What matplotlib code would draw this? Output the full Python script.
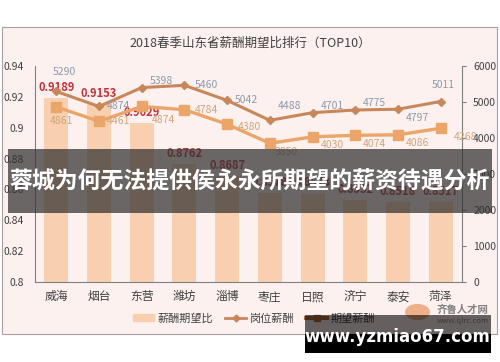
import matplotlib.pyplot as plt
from matplotlib.patches import Rectangle, Ellipse
from matplotlib.lines import Line2D

plt.rcParams['font.family'] = ['Noto Sans CJK SC', 'DejaVu Sans']

cities = ["威海", "烟台", "东营", "潍坊", "淄博", "枣庄", "日照", "济宁", "泰安", "菏泽"]
ratio = [0.9189, 0.9153, 0.9029, 0.8762, 0.8687, 0.8578, 0.8573, 0.8532, 0.8518, 0.8517]
job_pay = [5290, 4874, 5398, 5460, 5042, 4488, 4701, 4775, 4797, 5011]
expected_pay = [4861, 4461, 4874, 4784, 4380, 3850, 4030, 4074, 4086, 4268]
left_ticks = [0.8, 0.82, 0.84, 0.86, 0.88, 0.9, 0.92, 0.94]
right_ticks = [0, 1000, 2000, 3000, 4000, 5000, 6000]

# label offsets in points (styling only)
job_off = [(6, 14), (14, 0), (14, 5), (16, 0), (14, 0), (14, 10), (14, 5), (14, 5), (14, -6), (2, 12)]
exp_off = [(4, -10), (14, 0), (16, -10), (16, 0), (16, -2), (12, -6), (14, -6), (14, -6), (14, -6), (18, -6)]

C_BAR = "#f8d0b0"
C_JOB = "#c8875a"
C_EXP = "#eba568"
C_TXT = "#404040"

fig = plt.figure(figsize=(5, 3.62), dpi=100)

# chart panel
fig.patches.append(Rectangle((0.003, 0.077), 0.991, 0.848, transform=fig.transFigure,
                             facecolor="#fdf1ef", edgecolor="#a8a0a0", lw=0.8, zorder=-5))

ax = fig.add_axes([0.07, 0.221, 0.854, 0.597])
ax.set_facecolor("none")
x = list(range(len(cities)))
ax.bar(x, ratio, width=0.56, color=C_BAR, zorder=1)
ax.set_ylim(0.8, 0.94)
ax.set_xlim(-0.5, len(cities) - 0.5)
ax.set_yticks(left_ticks)
ax.set_yticklabels([f"{t:g}" for t in left_ticks], fontsize=7.5, color=C_TXT)
ax.set_xticks(x)
ax.set_xticklabels(cities, fontsize=8.5, color=C_TXT)
ax.tick_params(axis="y", length=0, pad=8)
ax.tick_params(axis="x", length=0, pad=6)
for s in ["top", "right"]:
    ax.spines[s].set_visible(False)
ax.spines["left"].set_color("#808080")
ax.spines["bottom"].set_color("#808080")
ax.spines["left"].set_linewidth(0.8)
for xi, v in zip(x, ratio):
    ax.annotate(f"{v:.4f}", (xi, v), xytext=(0, 3), textcoords="offset points",
                ha="center", va="bottom", fontsize=8, color="#c4303a", fontweight="bold")

ax2 = ax.twinx()
ax2.set_ylim(0, 6000)
ax2.set_yticks(right_ticks)
ax2.set_yticklabels([str(t) for t in right_ticks], fontsize=7.5, color=C_TXT)
ax2.tick_params(axis="y", length=3, color="#808080", pad=5)
for s in ["top", "left", "bottom"]:
    ax2.spines[s].set_visible(False)
ax2.spines["right"].set_color("#808080")
ax2.spines["right"].set_linewidth(0.8)

ax2.plot(x, job_pay, color=C_JOB, lw=2.2, marker="D", ms=4.5, zorder=3)
ax2.plot(x, expected_pay, color=C_EXP, lw=2.4, marker="s", ms=7, zorder=3)
for xi, v, o in zip(x, job_pay, job_off):
    ax2.annotate(str(v), (xi, v), xytext=o, textcoords="offset points",
                 ha="center", va="center", fontsize=7.5, color="#8e9aaa")
for xi, v, o in zip(x, expected_pay, exp_off):
    ax2.annotate(str(v), (xi, v), xytext=o, textcoords="offset points",
                 ha="center", va="center", fontsize=7.5, color="#d0a47c")

fig.text(0.5, 0.881, "2018春季山东省薪酬期望比排行（TOP10）", ha="center", va="center",
         fontsize=9, color=C_TXT)

handles = [Rectangle((0, 0), 1, 1, color=C_BAR),
           Line2D([], [], color=C_JOB, lw=2, marker="D", ms=3.5),
           Line2D([], [], color="#b07040", lw=3, marker="s", ms=4)]
fig.legend(handles, ["薪酬期望比", "岗位薪酬", "期望薪酬"], loc="center",
           bbox_to_anchor=(0.508, 0.121), ncol=3, frameon=False, fontsize=8,
           handlelength=1.9, handletextpad=0.3, columnspacing=1.1, labelcolor=C_TXT)

# logo
fig.patches.append(Ellipse((0.835, 0.138), 0.05, 0.045, transform=fig.transFigure,
                           facecolor="#eaa070", edgecolor="none", alpha=0.8, zorder=5))
fig.text(0.925, 0.143, "齐鲁人才网", ha="center", va="center", fontsize=7.5,
         color="#808080", fontweight="bold")
fig.text(0.925, 0.113, "www.qlrc.com", ha="center", va="center", fontsize=5.5, color="#909090")

# overlay banner
fig.patches.append(Rectangle((0.016, 0.412), 0.968, 0.177, transform=fig.transFigure,
                             facecolor="#303030", alpha=0.72, edgecolor="none", zorder=10))
fig.text(0.5, 0.497, "蓉城为何无法提供侯永永所期望的薪资待遇分析", ha="center", va="center",
         fontsize=16.5, color="white", fontweight="bold", zorder=11)

# watermark box
fig.patches.append(Rectangle((0.61, 0.077), 0.372, 0.053, transform=fig.transFigure,
                             facecolor="black", alpha=0.6, edgecolor="none", zorder=10))
fig.patches.append(Rectangle((0.61, 0.025), 0.372, 0.052, transform=fig.transFigure,
                             facecolor="black", edgecolor="none", zorder=10))
fig.text(0.795, 0.069, "www.yzmiao67.com", ha="center", va="center", fontsize=12,
         color="white", fontweight="bold", family="DejaVu Sans", zorder=11)

fig.savefig("out.png", dpi=100)
